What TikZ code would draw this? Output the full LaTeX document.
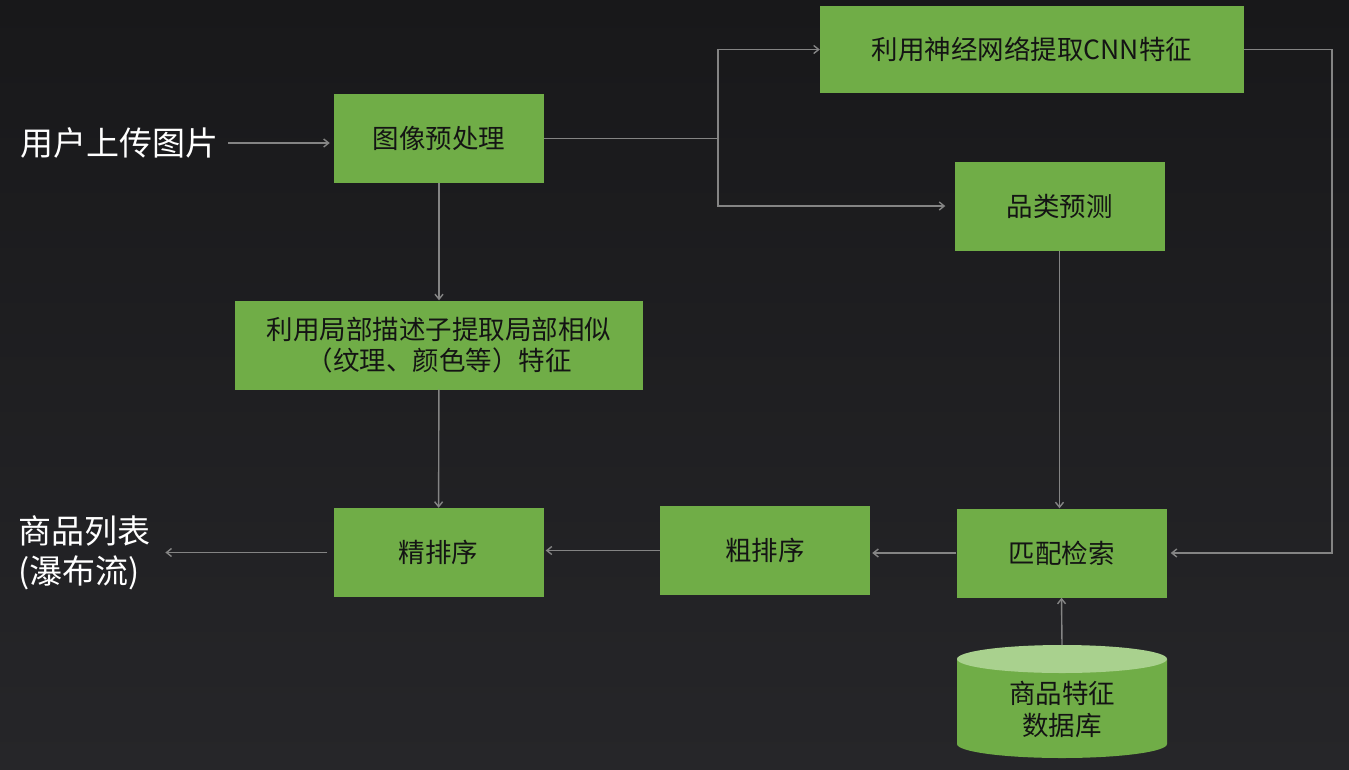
\documentclass[tikz,border=0pt]{standalone}
\usepackage{fontspec}
\setmainfont{Noto Sans CJK SC}
\usetikzlibrary{arrows.meta,positioning}
\definecolor{bgtop}{RGB}{24,24,26}
\definecolor{bgbot}{RGB}{38,38,41}
\definecolor{leaf}{RGB}{112,173,71}
\definecolor{leaflt}{RGB}{169,209,142}
\definecolor{wire}{RGB}{132,132,132}

\begin{document}
\begin{tikzpicture}[x=1pt,y=-1pt,
  box/.style={rectangle,fill=leaf,text=black!92,inner sep=0,minimum width=210pt,minimum height=89pt,
    font=\fontsize{26.5}{31}\selectfont,align=center},
  big/.style={text=white,inner sep=0,font=\fontsize{33}{40}\selectfont},
  ln/.style={draw=wire,line width=1.4pt},
  arr/.style={ln,-{Straight Barb[length=5pt,width=8pt]}}]
 % background
 \shade[top color=bgtop,bottom color=bgbot] (0,0) rectangle (1349,769);
 \useasboundingbox (0,0) rectangle (1349,769);
 % boxes
 \node[box] (pre) at (439,138.5) {图像预处理};
 \node[box,minimum width=424pt,minimum height=87pt] (cnn) at (1032,49.5) {利用神经网络提取CNN特征};
 \node[box] (cat) at (1059.5,206) {品类预测};
 \node[box,minimum width=408pt] (loc) at (439,345) {利用局部描述子提取局部相似\\（纹理、颜色等）特征};
 \node[box] (fine) at (438.5,552.5) {精排序};
 \node[box] (coarse) at (765,550.5) {粗排序};
 \node[box] (match) at (1061.5,553) {匹配检索};
 % database
 \fill[leaf] (957,659) -- (957,744) arc[start angle=180,end angle=360,x radius=105pt,y radius=14pt] -- (1167,659) -- cycle;
 \fill[leaflt] (1062,659) ellipse[x radius=105pt,y radius=14pt];
 \node[box,fill=none,minimum width=0pt,minimum height=0pt,font=\fontsize{26.5}{32}\selectfont] (db) at (1062,709) {商品特征\\数据库};
 \coordinate (dbtop) at (1062,645);
 % input / output
 \node[big,anchor=west] (user) at (20,143) {用户上传图片};
 \node[big,anchor=west,align=left] (list) at (18,553) {商品列表\\(瀑布流)};
 % connectors
 \coordinate (split) at (718,138.5);
 \coordinate (bend) at (1332,49.5);
 \draw[arr,shorten <=10pt,shorten >=4pt] (user.east) -- (user.east -| pre.west);
 \draw[ln] (pre.east) -- (split);
 \draw[arr] (split) |- (cnn.west);
 \draw[arr,shorten >=9pt] (split) |- (cat.west);
 \draw[arr,shorten >=4pt] (cnn.east) -- (bend) |- (match.east);
 \draw[arr] (pre) -- (loc);
 \draw[arr] (loc) -- (fine);
 \draw[arr] (cat.south) -- (cat.south |- match.north);
 \draw[arr,shorten >=2pt] (match.west) -- (match.west -| coarse.east);
 \draw[arr,shorten >=2pt] (coarse.west) -- (coarse.west -| fine.east);
 \draw[arr,shorten <=6pt,shorten >=15pt] (fine.west) -- (fine.west -| list.east);
 \draw[arr] (dbtop) -- (match.south);
\end{tikzpicture}
\end{document}
